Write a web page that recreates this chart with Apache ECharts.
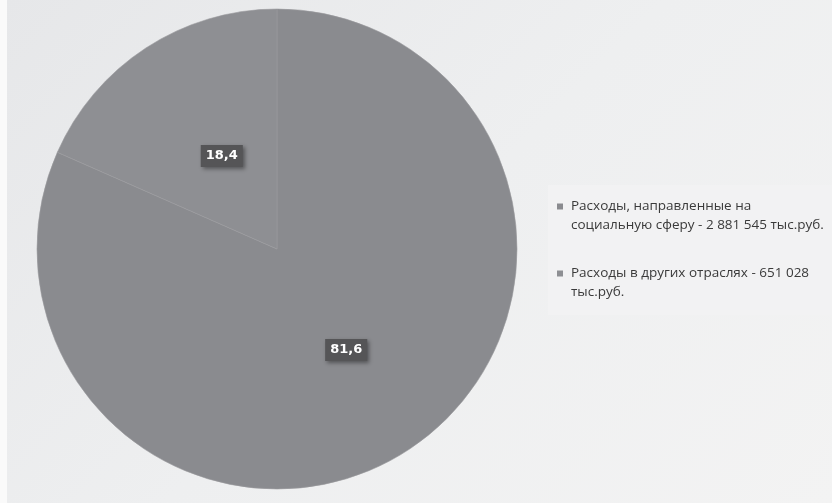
<!DOCTYPE html>
<html><head><meta charset="utf-8">
<script src="https://cdn.jsdelivr.net/npm/echarts@6/dist/echarts.min.js"></script>
<style>
html,body{margin:0;padding:0;}
#c{width:832px;height:503px;background:linear-gradient(135deg,#e6e7e9 0%,#eeeff0 50%,#f3f3f3 100%);}
</style></head>
<body><div id="c"></div>
<script>
const categories = ['Расходы, направленные на\nсоциальную сферу - 2 881 545 тыс.руб.', 'Расходы в других отраслях - 651 028\nтыс.руб.'];
const values = [81.6, 18.4];
const colors = ['#8a8b8f', '#8e8f93'];
const chart = echarts.init(document.getElementById('c'));
chart.setOption({
  animation: false,
  graphic: [
    {type:'rect', shape:{x:0,y:0,width:7,height:503}, style:{fill:'#fafafa'}},
    {type:'rect', shape:{x:548,y:185,width:284,height:130}, style:{fill:'#f2f2f3'}}
  ],
  legend: {
    orient: 'vertical', left: 557, top: 197, padding: 0,
    icon: 'path://M0,0h0.0001v0.0001h-0.0001z M0,6.5h6v6h-6z M8.9999,37.9999h0.0001v0.0001h-0.0001z',
    itemWidth: 9, itemHeight: 38, itemGap: 29,
    itemStyle: {borderWidth: 0},
    textStyle: {fontFamily: 'Open Sans', fontSize: 13.5, color: '#3a3a3a', lineHeight: 19},
    data: categories
  },
  series: [{
    type: 'pie', center: [277, 249], radius: 240, startAngle: 90, clockwise: true,
    label: {
      show: true, position: 'inner', formatter: p => String(p.value).replace('.', ','),
      color: '#ffffff', fontWeight: 'bold', fontSize: 13, fontFamily: 'DejaVu Sans',
      backgroundColor: '#555557', padding: [5, 5, 4, 5],
      shadowColor: 'rgba(0,0,0,0.4)', shadowBlur: 4, shadowOffsetX: 2, shadowOffsetY: 2
    },
    labelLine: {show: false},
    itemStyle: {borderColor: '#9a9b9e', borderWidth: 0.6},
    emphasis: {disabled: true},
    data: categories.map((n, i) => ({name: n, value: values[i], itemStyle: {color: colors[i]},
      label: i === 1 ? {offset: [12, 10]} : {offset: [2, -2]}}))
  }]
});
</script></body></html>
